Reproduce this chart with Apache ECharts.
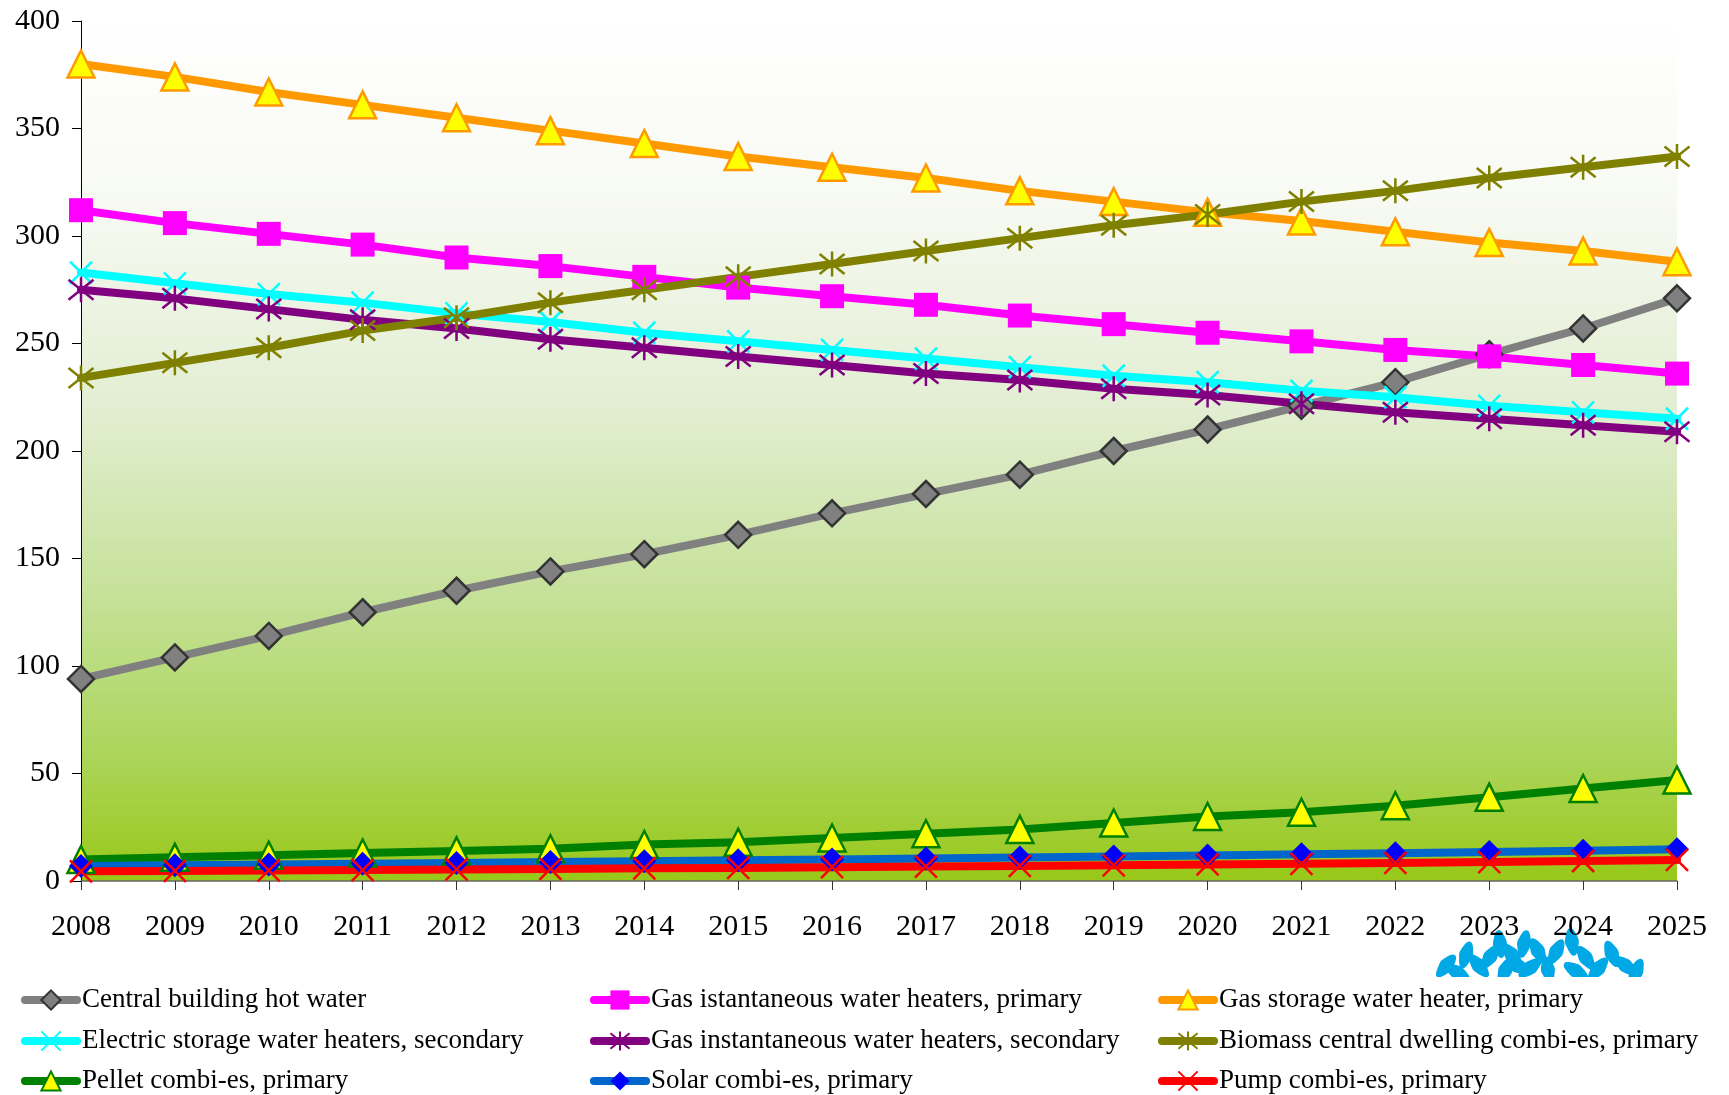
<!DOCTYPE html>
<html><head><meta charset="utf-8">
<script src="https://cdn.jsdelivr.net/npm/echarts@6/dist/echarts.min.js"></script>
<style>html,body{margin:0;padding:0;background:#fff}#c{width:1729px;height:1095px}</style>
</head><body><div id="c"></div>
<script>
const years = ['2008','2009','2010','2011','2012','2013','2014','2015','2016','2017','2018','2019','2020','2021','2022','2023','2024','2025'];
const centralBuilding = [94,104,114,125,135,144,152,161,171,180,189,200,210,221,232,245,257,271];
const gasInstPrimary = [312,306,301,296,290,286,281,276,272,268,263,259,255,251,247,244,240,236];
const gasStorage = [380,374,367,361,355,349,343,337,332,327,321,316,311,307,302,297,293,288];
const electricStorage = [283,278,273,269,264,260,255,251,247,243,239,235,232,228,225,221,218,215];
const gasInstSecondary = [275,271,266,261,257,252,248,244,240,236,233,229,226,222,218,215,212,209];
const biomass = [234,241,248,256,262,269,275,281,287,293,299,305,310,316,321,327,332,337];
const pellet = [10,11,12,13,14,15,17,18,20,22,24,27,30,32,35,39,43,47];
const solar = [7.0,7.3,7.7,8.0,8.4,8.8,9.2,9.6,10.0,10.5,10.9,11.4,11.9,12.4,12.9,13.5,14.1,14.8];
const pump = [4.5,4.7,4.9,5.1,5.4,5.6,5.9,6.1,6.4,6.7,7.0,7.3,7.7,8.0,8.4,8.8,9.3,9.8];
const yTicks = {min:0, max:400, interval:50};

const names = ['Central building hot water','Gas istantaneous water heaters, primary','Gas storage water heater, primary',
 'Electric storage water heaters, secondary','Gas instantaneous water heaters, secondary','Biomass central dwelling combi-es, primary',
 'Pellet combi-es, primary','Solar combi-es, primary','Pump combi-es, primary'];

const ASTER = 'path://M2,2L18,18M18,2L2,18M10,0L10,20';
const CROSS = 'path://M0,0L20,20M20,0L0,20';

function mk(name, data, lineColor, symbol, size, fill, border, bw){
  return {
    name, type:'line', data, clip:false, smooth:false,
    symbol, symbolSize:size, showAllSymbol:true,
    lineStyle:{color:lineColor, width:8, cap:'round', join:'round'},
    itemStyle:{color:fill, borderColor:border, borderWidth:bw},
    emphasis:{disabled:true}, animation:false
  };
}

const series = [
  mk(names[0], centralBuilding, '#808080', 'diamond', 26, '#808080', '#333333', 2.5),
  mk(names[1], gasInstPrimary, '#FF00FF', 'rect', 24, '#FF00FF', '#FF00FF', 0),
  mk(names[2], gasStorage, '#FF9900', 'triangle', 27, '#FFFF00', '#FF9900', 2.5),
  mk(names[3], electricStorage, '#00FFFF', CROSS, 22, '#00FFFF', '#00FFFF', 2.5),
  mk(names[4], gasInstSecondary, '#800080', ASTER, 25, '#800080', '#800080', 2.5),
  mk(names[5], biomass, '#808000', ASTER, 25, '#808000', '#808000', 2.5),
  mk(names[6], pellet, '#008000', 'triangle', 27, '#FFFF00', '#008000', 2.5),
  mk(names[7], solar, '#0066CC', 'diamond', 24, '#0000FF', '#0000FF', 0),
  mk(names[8], pump, '#FF0000', CROSS, 22, '#FF0000', '#FF0000', 2.5)
];

const legendText = {fontFamily:'Liberation Serif', fontSize:27, color:'#000', lineHeight:28};
function leg(left, top, name){
  return {orient:'horizontal', left, top, padding:0, data:[name], itemWidth:52, itemHeight:24, itemGap:0,
    textStyle:legendText, selectedMode:false, lineStyle:{width:8, cap:'round'}};
}
const colX = [21, 590, 1158];
const rowY = [986, 1027, 1067];

const leaves = [
  [1446,966,-0.7],[1458,973,1.0],[1466,955,-0.3],[1479,966,0.7],[1490,957,-0.6],[1500,944,0.1],[1512,955,0.7],
  [1524,944,-0.2],[1538,951,0.5],[1530,968,-0.9],[1556,952,-0.5],[1572,942,0.15],[1586,958,0.6],
  [1598,969,-0.7],[1612,954,0.4],[1626,966,0.9],[1548,970,0.2],[1505,971,-0.4],[1576,971,1.0],[1636,972,-0.4],[1518,966,1.2]
];
const graphics = leaves.map(l => ({type:'polygon', x:l[0], y:l[1], rotation:l[2],
  shape:{points:[[0,-14],[6,-5],[6,4],[0,14],[-6,4],[-6,-5]], smooth:0.5},
  style:{fill:'#00A8E6'}, z:0, silent:true}));
graphics.push({type:'rect', shape:{x:1425,y:977,width:240,height:10}, style:{fill:'#fff'}, z:1, silent:true});

const legends = [];
names.forEach((n,i)=>{ const col = i % 3, row = Math.floor(i/3); legends.push(leg(colX[col], rowY[row], n)); });

const chart = echarts.init(document.getElementById('c'), null, {renderer:'canvas'});
chart.setOption({
  backgroundColor:'#fff',
  animation:false,
  grid:{left:81, right:52, top:21, bottom:214, show:true, borderWidth:0,
    backgroundColor:new echarts.graphic.LinearGradient(0,0,0,1,[
      {offset:0,color:'#ffffff'},{offset:0.2,color:'#f8faf4'},{offset:0.45,color:'#e2eed2'},
      {offset:0.65,color:'#c8e29e'},{offset:0.85,color:'#acd55c'},{offset:1,color:'#98c818'}])},
  xAxis:{type:'category', data:years, boundaryGap:false,
    axisLine:{lineStyle:{color:'#666', width:1.5}},
    axisTick:{show:true, length:9, inside:false, lineStyle:{color:'#333'}},
    axisLabel:{fontFamily:'Liberation Serif', fontSize:30, color:'#000', margin:31, interval:0},
    splitLine:{show:false}},
  yAxis:{type:'value', min:yTicks.min, max:yTicks.max, interval:yTicks.interval,
    axisLine:{show:true, lineStyle:{color:'#000', width:1}},
    axisTick:{show:true, length:9, lineStyle:{color:'#000'}},
    axisLabel:{fontFamily:'Liberation Serif', fontSize:30, color:'#000', margin:21},
    splitLine:{show:false}},
  legend:legends,
  graphic:graphics,
  series
});
</script></body></html>
